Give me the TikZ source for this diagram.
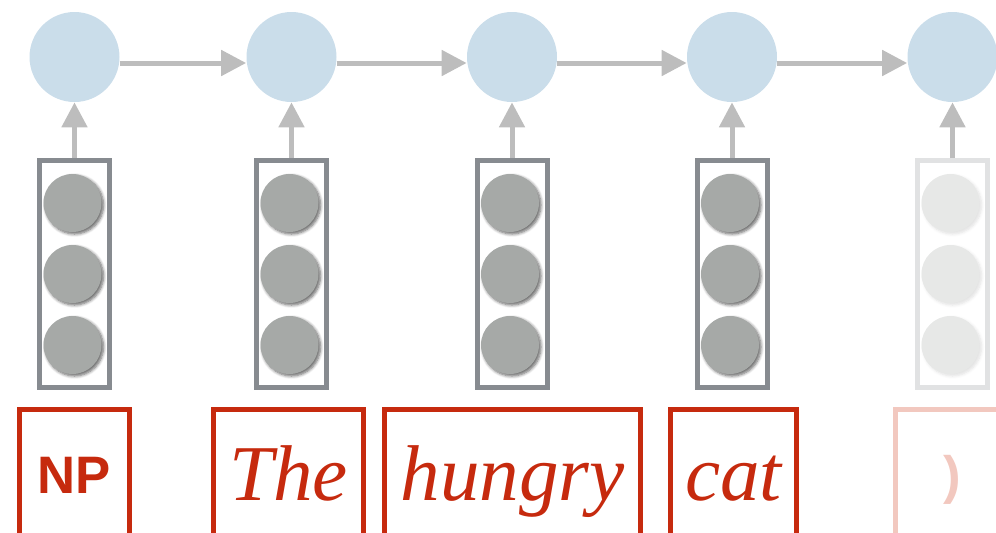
\documentclass[tikz,border=0pt]{standalone}
\usepackage{fontspec}
\setmainfont{Liberation Serif}
\setsansfont{Liberation Sans}
\usetikzlibrary{positioning, arrows.meta, shadows.blur}
\definecolor{hidden}{HTML}{CADDEA}
\definecolor{flowgray}{HTML}{BDBDBD}
\definecolor{vecframe}{HTML}{878B90}
\definecolor{vecunit}{HTML}{A6A9A7}
\definecolor{fadeframe}{HTML}{E1E2E3}
\definecolor{fadeunit}{HTML}{E7E8E7}
\definecolor{tok}{HTML}{C62A0E}
\definecolor{fadetok}{HTML}{F2C8BF}

\begin{document}
\begin{tikzpicture}[
  state/.style={circle, fill=hidden, minimum size=1.8cm, inner sep=0pt},
  flow/.style={-{Triangle[length=0.5cm, width=0.5cm]}, line width=0.1cm, flowgray},
  vec/.style={rectangle, draw=vecframe, line width=0.1cm, minimum width=1.4cm, minimum height=4.54cm, inner sep=0pt},
  vecfade/.style={vec, draw=fadeframe},
  unit/.style={circle, fill=vecunit, minimum size=1.16cm, inner sep=0pt,
    blur shadow={shadow xshift=0.04cm, shadow yshift=-0.04cm, shadow blur steps=6, shadow blur radius=0.06cm, shadow opacity=60}},
  unitfade/.style={circle, fill=fadeunit, minimum size=1.16cm, inner sep=0pt,
    blur shadow={shadow xshift=0.04cm, shadow yshift=-0.04cm, shadow blur steps=6, shadow blur radius=0.06cm, shadow opacity=12}},
  word/.style={rectangle, draw=tok, text=tok, line width=0.1cm, inner sep=0pt, anchor=base,
    text height=1.81cm, text depth=1.2cm, font=\fontsize{45}{50}\selectfont\itshape},
  label/.style={word, text height=1.67cm, font=\sffamily\bfseries\fontsize{30}{36}\selectfont}
]
  \useasboundingbox (0,0) rectangle (19.92,-10.64);
  \clip (0,0) rectangle (19.92,-10.64);

  % hidden states
  \node[state] (h1) at (1.49,-1.14) {};
  \node[state] (h2) at (5.83,-1.14) {};
  \node[state] (h3) at (10.24,-1.14) {};
  \node[state] (h4) at (14.64,-1.14) {};
  \node[state] (h5) at (19.05,-1.14) {};

  \draw[flow] ([yshift=-0.12cm]h1.east) -- ([yshift=-0.12cm]h2.west);
  \draw[flow] ([yshift=-0.12cm]h2.east) -- ([yshift=-0.12cm]h3.west);
  \draw[flow] ([yshift=-0.12cm]h3.east) -- ([yshift=-0.12cm]h4.west);
  \draw[flow] ([yshift=-0.12cm]h4.east) -- ([yshift=-0.12cm]h5.west);

  % input vectors
  \node[vec] (v1) at (1.49,-5.48) {};
  \node[vec] (v2) at (5.83,-5.48) {};
  \node[vec] (v3) at (10.24,-5.48) {};
  \node[vec] (v4) at (14.64,-5.48) {};
  \node[vecfade] (v5) at (19.05,-5.48) {};

  \node[unit] (u1a) at (1.45,-4.06) {};
  \node[unit] (u1b) at (1.45,-5.48) {};
  \node[unit] (u1c) at (1.45,-6.90) {};
  \node[unit] (u2a) at (5.79,-4.06) {};
  \node[unit] (u2b) at (5.79,-5.48) {};
  \node[unit] (u2c) at (5.79,-6.90) {};
  \node[unit] (u3a) at (10.20,-4.06) {};
  \node[unit] (u3b) at (10.20,-5.48) {};
  \node[unit] (u3c) at (10.20,-6.90) {};
  \node[unit] (u4a) at (14.60,-4.06) {};
  \node[unit] (u4b) at (14.60,-5.48) {};
  \node[unit] (u4c) at (14.60,-6.90) {};
  \node[unitfade] (u5a) at (19.01,-4.06) {};
  \node[unitfade] (u5b) at (19.01,-5.48) {};
  \node[unitfade] (u5c) at (19.01,-6.90) {};

  \draw[flow] (v1.north) -- (h1.south);
  \draw[flow] (v2.north) -- (h2.south);
  \draw[flow] (v3.north) -- (h3.south);
  \draw[flow] (v4.north) -- (h4.south);
  \draw[flow] (v5.north) -- (h5.south);

  % tokens
  \node[label, minimum width=2.2cm] (np) at (1.49,-9.86) {NP};
  \node[word, minimum width=3.0cm] (the) at (5.77,-10.0) {The};
  \node[word, minimum width=5.12cm] (hungry) at (10.25,-10.0) {hungry};
  \node[word, minimum width=2.52cm] (cat) at (14.67,-10.0) {cat};
  \node[label, draw=fadetok, text=fadetok, minimum width=2.26cm] (close) at (19.04,-9.86) {)};
\end{tikzpicture}
\end{document}
